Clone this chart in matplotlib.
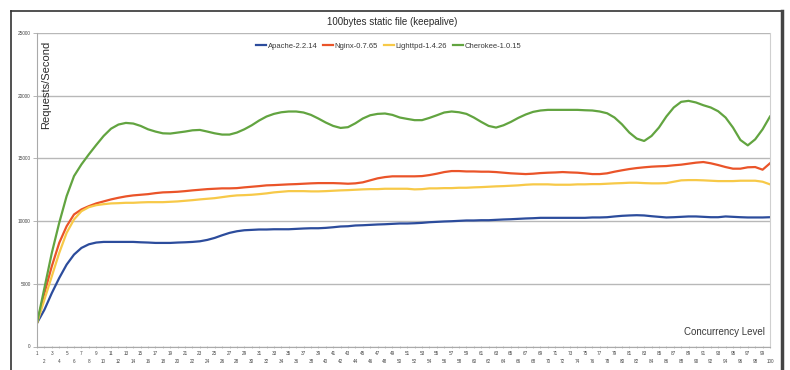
import matplotlib
matplotlib.use("Agg")
import matplotlib.pyplot as plt
from matplotlib.lines import Line2D
import numpy as np

plt.rcParams['font.family'] = ['Liberation Sans', 'DejaVu Sans']

# concurrency levels 1..100
concurrency = list(range(1, 101))

apache = [1870, 2930, 4260, 5460, 6530, 7330, 7860, 8150, 8290, 8340,
          8340, 8340, 8340, 8340, 8310, 8290, 8260, 8260, 8260, 8290,
          8310, 8340, 8390, 8500, 8660, 8870, 9060, 9190, 9270, 9300,
          9330, 9330, 9350, 9350, 9350, 9380, 9410, 9430, 9430, 9460,
          9510, 9570, 9590, 9650, 9670, 9700, 9730, 9750, 9780, 9810,
          9810, 9830, 9860, 9910, 9940, 9970, 9990, 10020, 10050, 10050,
          10070, 10070, 10100, 10130, 10150, 10180, 10210, 10230, 10260, 10260,
          10260, 10260, 10260, 10260, 10260, 10290, 10290, 10310, 10370, 10420,
          10450, 10470, 10450, 10390, 10340, 10290, 10310, 10340, 10370, 10370,
          10340, 10310, 10310, 10370, 10340, 10310, 10290, 10290, 10290, 10310]

nginx = [1870, 4260, 6400, 8260, 9590, 10530, 10930, 11190, 11410, 11570,
         11730, 11860, 11970, 12050, 12100, 12150, 12230, 12290, 12310, 12340,
         12390, 12450, 12500, 12550, 12580, 12610, 12610, 12630, 12690, 12740,
         12790, 12850, 12870, 12900, 12930, 12950, 12980, 13010, 13030, 13030,
         13030, 13010, 12980, 13010, 13090, 13250, 13410, 13510, 13570, 13570,
         13570, 13570, 13590, 13670, 13780, 13910, 13990, 13990, 13960, 13960,
         13940, 13940, 13910, 13860, 13810, 13780, 13750, 13780, 13830, 13860,
         13880, 13910, 13880, 13860, 13810, 13750, 13750, 13810, 13940, 14050,
         14150, 14230, 14290, 14340, 14370, 14390, 14450, 14500, 14580, 14660,
         14710, 14610, 14470, 14310, 14180, 14180, 14290, 14310, 14100, 14610]

lighttpd = [1870, 3730, 5600, 7460, 9060, 10130, 10790, 11110, 11270, 11350,
            11410, 11430, 11460, 11460, 11490, 11510, 11510, 11510, 11540, 11570,
            11620, 11670, 11730, 11780, 11830, 11910, 11990, 12050, 12070, 12100,
            12150, 12210, 12290, 12340, 12390, 12390, 12390, 12370, 12370, 12390,
            12420, 12450, 12470, 12500, 12530, 12550, 12550, 12580, 12580, 12580,
            12580, 12530, 12550, 12610, 12610, 12630, 12630, 12660, 12660, 12690,
            12710, 12740, 12770, 12790, 12820, 12850, 12900, 12930, 12930, 12930,
            12900, 12900, 12900, 12930, 12930, 12950, 12950, 12980, 13010, 13030,
            13060, 13060, 13030, 13010, 13010, 13030, 13140, 13250, 13270, 13270,
            13250, 13220, 13190, 13190, 13190, 13220, 13220, 13220, 13140, 12930]

cherokee = [1870, 4660, 7460, 9860, 11990, 13590, 14520, 15320, 16070, 16790,
            17370, 17700, 17830, 17780, 17590, 17320, 17140, 17000, 16980, 17060,
            17140, 17240, 17270, 17140, 17000, 16900, 16900, 17060, 17320, 17640,
            18020, 18340, 18550, 18680, 18740, 18740, 18660, 18470, 18180, 17860,
            17590, 17430, 17490, 17800, 18180, 18440, 18550, 18580, 18470, 18260,
            18150, 18050, 18050, 18230, 18440, 18660, 18740, 18680, 18550, 18260,
            17910, 17590, 17460, 17640, 17910, 18230, 18500, 18710, 18820, 18870,
            18870, 18870, 18870, 18870, 18840, 18820, 18740, 18600, 18260, 17720,
            17060, 16580, 16390, 16790, 17460, 18340, 19060, 19510, 19590, 19460,
            19240, 19060, 18760, 18260, 17460, 16470, 16040, 16520, 17320, 18340]

series_names = ["Apache-2.2.14", "Nginx-0.7.65", "Lighttpd-1.4.26", "Cherokee-1.0.15"]
colors = ["#2c4c9c", "#ea5429", "#f7c948", "#62a440"]
y_ticks = [0, 5000, 10000, 15000, 20000, 25000]

fig = plt.figure(figsize=(7.9, 3.7), dpi=100)
ax = fig.add_axes([37 / 790, 1 - 346.5 / 370, 733 / 790, 313.5 / 370])

for vals, name, col in zip([apache, nginx, lighttpd, cherokee], series_names, colors):
    ax.plot(concurrency, vals, color=col, lw=1.6, label=name, solid_joinstyle='round')

ax.set_xlim(1, 100)
ax.set_ylim(0, 25000)

# gridlines
ax.set_yticks(y_ticks)
ax.set_yticklabels([str(v) for v in y_ticks], fontsize=3.4, color='#444444')
ax.yaxis.grid(True, color='#b8b8b8', lw=1.0)
ax.set_axisbelow(True)
ax.tick_params(axis='y', length=3, width=0.6, color='#aaaaaa', pad=1.5)

# x labels staggered in two rows
odd = concurrency[0::2]
even = concurrency[1::2]
ax.set_xticks(odd)
ax.set_xticklabels([str(v) for v in odd], fontsize=3.3, color='#444444')
ax.set_xticks(even, minor=True)
ax.set_xticklabels([str(v) for v in even], minor=True, fontsize=3.3, color='#444444')
ax.tick_params(axis='x', which='major', length=2, width=0.5, color='#aaaaaa',
               direction='inout', pad=2)
ax.tick_params(axis='x', which='minor', length=2, width=0.5, color='#aaaaaa',
               direction='inout', pad=8)

for s in ['left', 'bottom']:
    ax.spines[s].set_color('#aaaaaa')
    ax.spines[s].set_linewidth(0.8)
ax.spines['right'].set_color('#d0d0d0')
ax.spines['right'].set_linewidth(0.8)
ax.spines['top'].set_visible(False)

ax.text(0.012, 0.975, "Requests/Second", transform=ax.transAxes, rotation=90,
        ha='center', va='top', fontsize=8, color='#2a2a2a')
ax.text(0.993, 0.03, "Concurrency Level", transform=ax.transAxes,
        ha='right', va='bottom', fontsize=7, color='#3a3a3a')

leg = ax.legend(loc='upper center', bbox_to_anchor=(0.48, 0.985), ncol=4,
                frameon=False, fontsize=5.5, handlelength=1.3,
                handletextpad=0.2, columnspacing=0.8, borderaxespad=0.2)
for t in leg.get_texts():
    t.set_color('#3a3a3a')

fig.text(392 / 790, 1 - 22 / 370, "100bytes static file (keepalive)",
         ha='center', va='center', fontsize=7, color='#2a2a2a')

# outer frame of the screenshot
fig.add_artist(Line2D([10.5 / 790, 10.5 / 790], [0, 1 - 10.5 / 370],
                      transform=fig.transFigure, color='#333333', lw=1.2))
fig.add_artist(Line2D([10.5 / 790, 782 / 790], [1 - 10.5 / 370, 1 - 10.5 / 370],
                      transform=fig.transFigure, color='#333333', lw=1.2))
fig.add_artist(Line2D([782 / 790, 782 / 790], [0, 1 - 10.5 / 370],
                      transform=fig.transFigure, color='#444444', lw=2.5))

fig.savefig("out.png", dpi=100)
